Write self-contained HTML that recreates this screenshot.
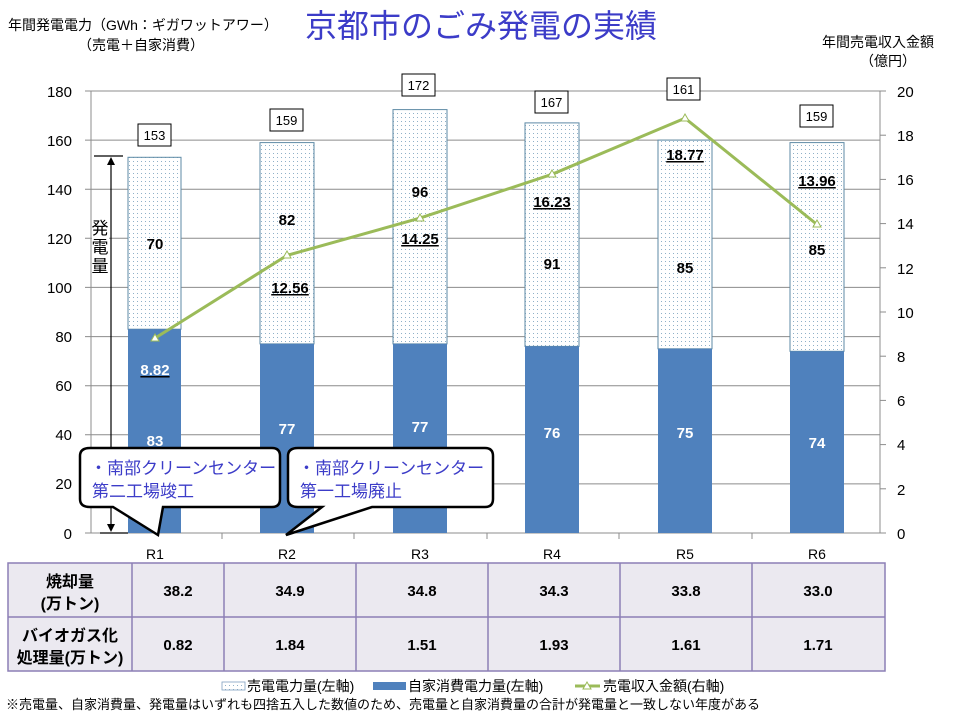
<!DOCTYPE html>
<html><head><meta charset="utf-8"><style>
body{margin:0;background:#fff;}
svg{display:block;font-family:"Liberation Sans","Noto Sans CJK JP",sans-serif;}
</style></head><body>
<svg width="960" height="720" viewBox="0 0 960 720" xmlns="http://www.w3.org/2000/svg">
<defs>
<pattern id="dots" width="4" height="4" patternUnits="userSpaceOnUse">
<rect width="4" height="4" fill="#fff"/><rect x="1" y="1" width="1" height="1" fill="#8fb0c8"/>
</pattern>
</defs>
<text x="305" y="37" font-size="32" fill="#3c3cc8">京都市のごみ発電の実績</text>
<text x="8" y="30" font-size="14" fill="#000">年間発電電力（GWh：ギガワットアワー）</text>
<text x="78" y="50" font-size="14" fill="#000">（売電＋自家消費）</text>
<text x="822" y="47" font-size="14" fill="#000">年間売電収入金額</text>
<text x="860" y="66" font-size="14" fill="#000">（億円）</text>
<!-- grid -->
<g stroke="#8c8c8c" stroke-width="1">
<line x1="85" y1="91" x2="886" y2="91"/><line x1="85" y1="140.1" x2="880" y2="140.1"/>
<line x1="85" y1="189.2" x2="880" y2="189.2"/><line x1="85" y1="238.3" x2="880" y2="238.3"/>
<line x1="85" y1="287.4" x2="880" y2="287.4"/><line x1="85" y1="336.6" x2="880" y2="336.6"/>
<line x1="85" y1="385.7" x2="880" y2="385.7"/><line x1="85" y1="434.8" x2="880" y2="434.8"/>
<line x1="85" y1="483.9" x2="880" y2="483.9"/><line x1="85" y1="533" x2="886" y2="533"/>
<line x1="91" y1="91" x2="91" y2="533"/><line x1="880" y1="91" x2="880" y2="533"/>
<line x1="880" y1="135.2" x2="886" y2="135.2"/><line x1="880" y1="179.4" x2="886" y2="179.4"/>
<line x1="880" y1="223.6" x2="886" y2="223.6"/><line x1="880" y1="267.8" x2="886" y2="267.8"/>
<line x1="880" y1="312" x2="886" y2="312"/><line x1="880" y1="356.2" x2="886" y2="356.2"/>
<line x1="880" y1="400.4" x2="886" y2="400.4"/><line x1="880" y1="444.6" x2="886" y2="444.6"/>
<line x1="880" y1="488.8" x2="886" y2="488.8"/>
<line x1="222" y1="533" x2="222" y2="539"/><line x1="354" y1="533" x2="354" y2="539"/>
<line x1="487" y1="533" x2="487" y2="539"/><line x1="619" y1="533" x2="619" y2="539"/>
<line x1="752" y1="533" x2="752" y2="539"/>
</g>
<g font-size="15" fill="#000" text-anchor="end">
<text x="72" y="97">180</text><text x="72" y="146">160</text><text x="72" y="195">140</text>
<text x="72" y="244">120</text><text x="72" y="293">100</text><text x="72" y="342">80</text>
<text x="72" y="391">60</text><text x="72" y="440">40</text><text x="72" y="489">20</text><text x="72" y="539">0</text>
</g>
<g font-size="15" fill="#000">
<text x="897" y="97">20</text><text x="897" y="141">18</text><text x="897" y="185">16</text>
<text x="897" y="229">14</text><text x="897" y="274">12</text><text x="897" y="318">10</text>
<text x="897" y="362">8</text><text x="897" y="406">6</text><text x="897" y="450">4</text>
<text x="897" y="495">2</text><text x="897" y="539">0</text>
</g>
<g font-size="14" fill="#000" text-anchor="middle">
<text x="155" y="559">R1</text><text x="287" y="559">R2</text><text x="420" y="559">R3</text>
<text x="552" y="559">R4</text><text x="685" y="559">R5</text><text x="817" y="559">R6</text>
</g>
<!-- bars -->
<g stroke="#5e8aa6" stroke-width="1" fill="url(#dots)">
<rect x="128" y="157.3" width="53" height="171.9"/>
<rect x="260" y="142.6" width="54" height="201.3"/>
<rect x="393" y="109.6" width="54" height="234.3"/>
<rect x="525" y="122.9" width="54" height="223.5"/>
<rect x="658" y="140.1" width="54" height="208.7"/>
<rect x="790" y="142.6" width="54" height="208.7"/>
</g>
<g fill="#4f81bd">
<rect x="128" y="329.2" width="53" height="203.8"/>
<rect x="260" y="343.9" width="54" height="189.1"/>
<rect x="393" y="343.9" width="54" height="189.1"/>
<rect x="525" y="346.4" width="54" height="186.6"/>
<rect x="658" y="348.8" width="54" height="184.2"/>
<rect x="790" y="351.3" width="54" height="181.7"/>
</g>
<g font-size="15" font-weight="bold" fill="#fff" text-anchor="middle">
<text x="155" y="446">83</text><text x="287" y="434">77</text><text x="420" y="432">77</text>
<text x="552" y="438">76</text><text x="685" y="438">75</text><text x="817" y="448">74</text>
</g>
<g font-size="15" font-weight="bold" fill="#000" text-anchor="middle">
<text x="155" y="249">70</text><text x="287" y="225">82</text><text x="420" y="197">96</text>
<text x="552" y="269">91</text><text x="685" y="273">85</text><text x="817" y="255">85</text>
</g>
<g font-size="15" font-weight="bold" text-anchor="middle" text-decoration="underline">
<text x="155" y="375" fill="#fff">8.82</text>
<text x="290" y="293" fill="#000">12.56</text>
<text x="420" y="244" fill="#000">14.25</text>
<text x="552" y="207" fill="#000">16.23</text>
<text x="685" y="160" fill="#000">18.77</text>
<text x="817" y="186" fill="#000">13.96</text>
</g>
<!-- total boxes -->
<g fill="#fff" stroke="#000" stroke-width="1">
<rect x="138" y="124" width="33" height="22"/><rect x="270" y="109" width="33" height="22"/>
<rect x="402" y="74" width="33" height="22"/><rect x="535" y="91" width="33" height="22"/>
<rect x="667" y="78" width="33" height="22"/><rect x="800" y="105" width="33" height="22"/>
</g>
<g font-size="13" fill="#000" text-anchor="middle">
<text x="154.5" y="140">153</text><text x="286.5" y="125">159</text><text x="418.5" y="90">172</text>
<text x="551.5" y="107">167</text><text x="683.5" y="94">161</text><text x="816.5" y="121">159</text>
</g>
<!-- line -->
<polyline points="155,338.1 287,255.4 420,218.1 552,174.3 685,118.2 817,224.5" fill="none" stroke="#9bbb59" stroke-width="3"/>
<g fill="#fff" stroke="#9bbb59" stroke-width="1">
<polygon points="155,334 151,341 159,341"/><polygon points="287,251 283,258 291,258"/>
<polygon points="420,214 416,221 424,221"/><polygon points="552,170 548,177 556,177"/>
<polygon points="685,114 681,121 689,121"/><polygon points="817,220 813,227 821,227"/>
</g>
<!-- arrow annotation -->
<g stroke="#000" stroke-width="1.2">
<line x1="94" y1="156" x2="123" y2="156"/><line x1="111" y1="160" x2="111" y2="530"/>
<line x1="100" y1="533" x2="128" y2="533"/>
</g>
<polygon points="111,157 107,165 115,165" fill="#000"/>
<polygon points="111,532 107,524 115,524" fill="#000"/>
<rect x="92" y="216" width="17" height="62" fill="#fff"/>
<g font-size="17" fill="#000" text-anchor="middle">
<text x="100" y="234">発</text><text x="100" y="253">電</text><text x="100" y="272">量</text>
</g>
<!-- callouts -->
<path d="M90,448 H272 Q280,448 280,456 V499 Q280,507 272,507 H163 L158,535 L113,507 H90 Q80,507 80,499 V456 Q80,448 90,448 Z" fill="#fff" stroke="#000" stroke-width="2.5"/>
<path d="M298,448 H485 Q493,448 493,456 V499 Q493,507 485,507 H372 L286,535 L322,507 H298 Q288,507 288,499 V456 Q288,448 298,448 Z" fill="#fff" stroke="#000" stroke-width="2.5"/>
<g font-size="17" fill="#3c3cc8">
<text x="90" y="474">・南部クリーンセンター</text><text x="92" y="497">第二工場竣工</text>
<text x="298" y="474">・南部クリーンセンター</text><text x="300" y="497">第一工場廃止</text>
</g>
<!-- table -->
<rect x="8" y="563" width="877" height="108" fill="#ebe9f0"/>
<g stroke="#8c7fb5" stroke-width="1.5" fill="none">
<rect x="8" y="563" width="877" height="108"/>
<line x1="8" y1="617" x2="885" y2="617"/>
<line x1="132" y1="563" x2="132" y2="671"/><line x1="224" y1="563" x2="224" y2="671"/>
<line x1="356" y1="563" x2="356" y2="671"/><line x1="488" y1="563" x2="488" y2="671"/>
<line x1="620" y1="563" x2="620" y2="671"/><line x1="752" y1="563" x2="752" y2="671"/>
</g>
<g font-size="16" font-weight="bold" fill="#000" text-anchor="middle">
<text x="70" y="587">焼却量</text><text x="70" y="609">(万トン)</text>
<text x="70" y="641">バイオガス化</text><text x="70" y="663">処理量(万トン)</text>
</g>
<g font-size="15" font-weight="bold" fill="#000" text-anchor="middle">
<text x="178" y="596">38.2</text><text x="290" y="596">34.9</text><text x="422" y="596">34.8</text>
<text x="554" y="596">34.3</text><text x="686" y="596">33.8</text><text x="818" y="596">33.0</text>
<text x="178" y="650">0.82</text><text x="290" y="650">1.84</text><text x="422" y="650">1.51</text>
<text x="554" y="650">1.93</text><text x="686" y="650">1.61</text><text x="818" y="650">1.71</text>
</g>
<!-- legend -->
<rect x="222" y="682" width="23" height="8" fill="url(#dots)" stroke="#7fa0c0" stroke-width="0.8"/>
<text x="247" y="691" font-size="14" fill="#000">売電電力量(左軸)</text>
<rect x="373" y="682" width="33" height="8" fill="#4f81bd"/>
<text x="408" y="691" font-size="14" fill="#000">自家消費電力量(左軸)</text>
<line x1="575" y1="686" x2="600" y2="686" stroke="#9bbb59" stroke-width="3"/>
<polygon points="587,682 583,689 591,689" fill="#fff" stroke="#9bbb59"/>
<text x="603" y="691" font-size="14" fill="#000">売電収入金額(右軸)</text>
<text x="6" y="709" font-size="13" fill="#000">※売電量、自家消費量、発電量はいずれも四捨五入した数値のため、売電量と自家消費量の合計が発電量と一致しない年度がある</text>
</svg>
</body></html>
